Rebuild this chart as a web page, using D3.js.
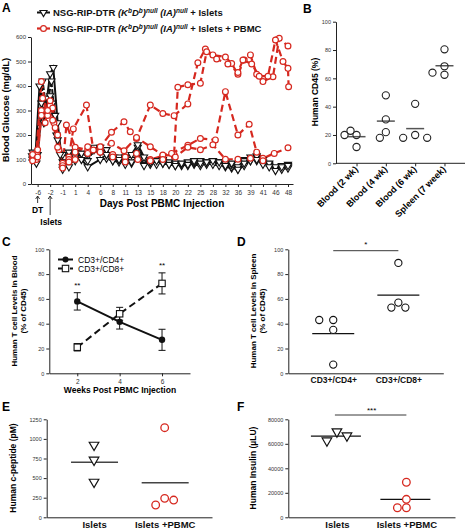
<!DOCTYPE html>
<html><head><meta charset="utf-8">
<script src="https://cdn.jsdelivr.net/npm/d3@7"></script>
<style>body{margin:0;background:#fff}svg{display:block;font-family:"Liberation Sans",Arial,Helvetica,sans-serif}</style>
</head><body><svg id="c" width="465" height="529"></svg>
<script>
// ---------- DATA ----------
const dayLabels = ["-6","-2","-1","1","4","6","8","11","13","15","18","20","22","25","28","32","36","39","41","46","48"];
// [measurement index (label index), glucose mg/dL]
const red1 = [[-0.4,110],[-0.1,125],[0.3,418],[0.7,300],[1,320],[1.3,250],[1.7,140],[2,70],[2.3,241],[3,150],[4,140],[5,150],[5.9,211],[6.9,254],[7.4,213],[7.9,186],[9,322],[10,288],[10.9,279],[12,327],[12.8,495],[13.4,551],[14,527],[15,518],[15.5,492],[16,448],[16.5,506],[17,527],[17.5,448],[18,418],[18.8,438],[19.3,595],[20,563]];
const red2 = [[-0.4,100],[0,140],[0.4,350],[0.8,280],[1.2,310],[1.6,200],[2,85],[2.5,110],[2.85,225],[3.9,322],[4.45,139],[5,143],[6,120],[7,110],[7.9,125],[9,100],[10,115],[10.9,120],[11.2,395],[12,405],[13,411],[13.5,540],[14.3,510],[15.2,490],[16,455],[16.4,506],[17.1,490],[17.7,440],[18.4,440],[19,588],[19.6,500],[20,472],[20.05,397]];
const red3 = [[-0.4,120],[-0.1,100],[0.3,300],[0.6,250],[1,340],[1.4,230],[2,75],[2.5,100],[3,130],[4,152],[5,152],[5.9,166],[6.9,136],[7.9,190],[9,152],[10,118],[10.7,125],[12,158],[13,186],[14.2,180],[15,377],[16,200],[16.9,244],[17.5,130],[18,105],[18.9,125],[20,148]];
const red4 = [[-0.4,95],[0,110],[0.3,280],[0.8,300],[1.2,260],[1.6,150],[2,65],[2.5,90],[3,100],[4,125],[5,130],[6,110],[7,90],[8,100],[9,95],[10,100],[11,110],[12,150],[13,140],[14,160],[15,101],[16,101],[17,105],[18,95]];
const black1 = [[-0.45,115],[-0.2,95],[0.15,400],[0.5,250],[1,450],[1.25,475],[1.6,250],[2,70],[2.5,120],[3,130],[4,70],[5,100],[5.5,105],[6,95],[6.5,90],[7,100],[7.5,85],[8,125],[8.5,80],[9,85],[9.5,90],[10,85],[10.5,80],[11,75],[11.5,80],[12,85],[12.5,80],[13,75],[13.5,85],[14,95],[14.5,80],[15,70],[15.5,65],[16,60],[16.5,75],[17,100],[17.5,105],[18,85],[18.5,80],[19,60],[19.5,65],[20,70]];
const black2 = [[-0.4,100],[-0.15,110],[0.3,330],[0.7,300],[1.1,420],[1.5,200],[2,60],[2.5,110],[3,95],[3.5,125],[4,115],[5,140],[5.5,120],[6,100],[6.5,110],[7,90],[7.5,100],[8,150],[8.5,100],[9,80],[9.5,95],[10,90],[10.5,85],[11,80],[11.5,75],[12,90],[12.5,85],[13,90],[13.5,80],[14,85],[14.5,90],[15,80],[15.5,70],[16,65],[16.5,100],[17,110],[17.5,95],[18,90],[18.5,75],[19,65],[19.5,75],[20,80]];
const black3 = [[-0.4,130],[-0.1,85],[0.3,280],[0.8,350],[1.2,330],[1.6,180],[2,120],[2.5,130],[3,120],[3.5,125],[4,125],[4.5,150],[5,130],[5.5,140],[6,105],[6.5,100],[7,110],[7.5,120],[8,160],[8.5,110],[9,90],[9.5,80],[10,100],[10.5,90],[11,85],[11.5,80],[12,75],[12.5,90],[13,95],[13.5,90],[14,80],[14.5,75],[15,85],[15.5,80],[16,70],[16.5,95],[17,95],[17.5,115],[18,100],[18.5,85],[19,70],[19.5,60],[20,65]];
const black4 = [[-0.4,105],[0,120],[0.4,420],[0.7,300],[1,360],[1.4,280],[1.8,120],[2,90],[2.5,70],[3,110],[3.5,100],[4,95],[4.5,140],[5,150],[5.5,120],[6,95],[6.5,100],[7,80],[7.5,90],[8,120],[8.5,75],[9,90],[9.5,95],[10,85],[10.5,80],[11,75],[11.5,85],[12,80],[12.5,95],[13,85],[13.5,90],[14,95],[14.5,90],[15,75],[15.5,85],[16,60],[16.5,85],[17,95],[17.5,100],[18,80],[18.5,70],[19,55],[19.5,70],[20,75]];
const redSeries = [red1, red2, red3, red4];
const blackSeries = [black1, black2, black3, black4];
const glucoseTicks = [0,100,200,300,400,500,600];

const bCategories = ["Blood (2 wk)","Blood (4 wk)","Blood (6 wk)","Spleen (7 week)"];
const bValues = [[20,20,23,11.5],[48,31,22,18],[42,20,18,18],[80.5,68.5,62.5,64]];
const bMeans = [18.8,29.8,24.5,68.9];
const pctTicks = [0,20,40,60,80,100];

const cWeeks = [2,4,6];
const cCD4 = [58,41.5,27];
const cCD4err = [7,5.8,8.5];
const cCD8 = [21,48,72.5];
const cCD8err = [3,5.2,8.5];
const cStars = ["**","","**"];

const dCategories = ["CD3+/CD4+","CD3+/CD8+"];
const dValues = [[43,43,35,7],[89,57,53,53]];
const dMeans = [32,63];

const eCategories = ["Islets","Islets +PBMC"];
const eValues = [[922,731,450],[1143,242,157,220]];
const eMeans = [701,441];
const eTicks = [0,250,500,750,1000,1250];

const fValues = [[69900,62500,66600],[28600,14700,7800,7800]];
const fMeans = [66300,14700];
const fTicks = [0,20000,40000,60000,80000];

// ---------- DRAWING ----------
const RED = "#d6281f";
const svg = d3.select("#c");
const triSmall = d3.symbol().type(d3.symbolTriangle).size(22);
const tri = d3.symbol().type(d3.symbolTriangle).size(40);

function panelLabel(x,y,t){svg.append("text").attr("x",x).attr("y",y).attr("font-size",12).attr("font-weight","bold").text(t);}
function yLabel(x,cy,lines,fs){
  const t = svg.append("text").attr("transform",`translate(${x},${cy}) rotate(-90)`).attr("text-anchor","middle")
    .attr("font-size",fs).attr("font-weight","bold");
  lines.forEach((l,i)=>t.append("tspan").attr("x",0).attr("dy",i?fs*1.15:0).text(l));
}
function styleAxis(g,fs){
  g.selectAll("path,line").attr("stroke","#222").attr("stroke-width",1);
  g.selectAll("text").attr("font-size",fs).attr("fill","#333").attr("font-family","Liberation Sans, Arial, sans-serif");
}
function dodge(vals,y,r,step){
  const placed=[];
  return vals.map(v=>{
    const py=y(v);
    for(const off of [0,-step,step,-2*step,2*step]){
      if(placed.every(p=>Math.hypot(p[0]-off,p[1]-py)>=2*r)){placed.push([off,py]);return off;}
    }
    placed.push([0,py]);return 0;
  });
}
const intFmt = d3.format("d");

// ===== Panel A =====
panelLabel(2,12,"A");
const xA = d3.scaleLinear().domain([-0.53,20.4]).range([31,293]);
const yA = d3.scaleLinear().domain([0,600]).range([184,37]);
const gxA = svg.append("g").attr("transform","translate(0,184)")
  .call(d3.axisBottom(xA).tickValues(d3.range(dayLabels.length)).tickFormat(i=>dayLabels[i]).tickSize(3).tickSizeOuter(0).tickPadding(3));
styleAxis(gxA,6.5);
const gyA = svg.append("g").attr("transform","translate(31,0)")
  .call(d3.axisLeft(yA).tickValues(glucoseTicks).tickFormat(intFmt).tickSize(3).tickSizeOuter(0).tickPadding(2));
styleAxis(gyA,6);
yLabel(9,110,["Blood Glucose (mg/dL)"],9.5);
svg.append("text").attr("x",162).attr("y",207).attr("text-anchor","middle").attr("font-size",10).attr("font-weight","bold").text("Days Post PBMC Injection");

const lineA = d3.line().x(d=>xA(d[0])).y(d=>yA(d[1]));
blackSeries.forEach((s,i)=>{
  svg.append("path").datum(s).attr("d",lineA).attr("fill","none").attr("stroke","#111").attr("stroke-width",2)
    .attr("stroke-dasharray",i%2?"5,2":null);
});
redSeries.forEach(s=>{
  svg.append("path").datum(s).attr("d",lineA).attr("fill","none").attr("stroke",RED).attr("stroke-width",2.2).attr("stroke-dasharray","7,4");
});
blackSeries.forEach(s=>{
  svg.append("g").selectAll("path").data(s).join("path").attr("d",triSmall)
    .attr("transform",d=>`translate(${xA(d[0])},${yA(d[1])}) rotate(180)`)
    .attr("fill","#fff").attr("stroke","#111").attr("stroke-width",1.1);
});
redSeries.forEach(s=>{
  svg.append("g").selectAll("circle").data(s).join("circle").attr("cx",d=>xA(d[0])).attr("cy",d=>yA(d[1])).attr("r",2.9)
    .attr("fill","#fff").attr("stroke",RED).attr("stroke-width",1.2);
});
// DT / Islets arrows
function arrow(x,y1,y2){
  svg.append("line").attr("x1",x).attr("x2",x).attr("y1",y1).attr("y2",y2).attr("stroke","#222").attr("stroke-width",0.9);
  svg.append("path").attr("d",`M${x-2},${y1+3}L${x},${y1}L${x+2},${y1+3}`).attr("fill","none").attr("stroke","#222").attr("stroke-width",0.9);
}
arrow(xA(0),196,203);
arrow(xA(1),196,215);
svg.append("text").attr("x",xA(0)).attr("y",213).attr("text-anchor","middle").attr("font-size",8.5).attr("font-weight","bold").text("DT");
svg.append("text").attr("x",xA(1)+1).attr("y",225).attr("text-anchor","middle").attr("font-size",8.5).attr("font-weight","bold").text("Islets");

// legend A
function legendText(x,y,suffix){
  const t = svg.append("text").attr("x",x).attr("y",y).attr("font-size",9.5).attr("font-weight","bold").attr("fill","#111");
  const parts=[["NSG-RIP-DTR ",0,0],["(K",1,0],["b",1,1],["D",1,0],["b",1,1],[")",1,0],["null",1,1],[" (IA)",1,0],["null",1,1],[suffix,0,0]];
  let up=false;
  parts.forEach(([s,it,sup])=>{
    const ts=t.append("tspan").text(s);
    if(it) ts.attr("font-style","italic");
    if(sup){ts.attr("font-size",6.5); if(!up){ts.attr("dy",-3.5);up=true;}}
    else if(up){ts.attr("dy",3.5);up=false;}
  });
}
svg.append("line").attr("x1",37).attr("x2",50).attr("y1",12.5).attr("y2",12.5).attr("stroke","#111").attr("stroke-width",2);
svg.append("path").attr("d",triSmall).attr("transform","translate(43.5,12.5) rotate(180)").attr("fill","#fff").attr("stroke","#111").attr("stroke-width",1.1);
legendText(53,16," + Islets");
svg.append("line").attr("x1",37).attr("x2",50).attr("y1",28.5).attr("y2",28.5).attr("stroke",RED).attr("stroke-width",2.2);
svg.append("circle").attr("cx",43.5).attr("cy",28.5).attr("r",2.9).attr("fill","#fff").attr("stroke",RED).attr("stroke-width",1.2);
legendText(53,32," + Islets + PBMC");

// ===== Panel B =====
panelLabel(303,13,"B");
const xB = d3.scalePoint().domain(bCategories).range([336,465]).padding(0.7);
const yB = d3.scaleLinear().domain([0,100]).range([163.3,21.7]);
const gxB = svg.append("g").attr("transform","translate(0,163.3)").call(d3.axisBottom(xB).tickSize(3).tickSizeOuter(0).tickFormat(""));
styleAxis(gxB,6);
gxB.select(".domain").attr("d","M336,0H465");
bCategories.forEach(c=>{
  svg.append("text").attr("transform",`translate(${xB(c)+2},${170}) rotate(-45)`).attr("text-anchor","end")
    .attr("font-size",9).attr("font-weight","bold").text(c);
});
const gyB = svg.append("g").attr("transform","translate(336,0)").call(d3.axisLeft(yB).tickValues(pctTicks).tickSize(3).tickSizeOuter(0).tickPadding(2));
styleAxis(gyB,5.5);
yLabel(318,92,["Human CD45 (%)"],8.5);
bValues.forEach((vals,i)=>{
  const offs = dodge(vals,yB,3.6,6);
  const cx = xB(bCategories[i]);
  svg.append("line").attr("x1",cx-9).attr("x2",cx+9).attr("y1",yB(bMeans[i])).attr("y2",yB(bMeans[i])).attr("stroke","#555").attr("stroke-width",1.5);
  vals.forEach((v,j)=>svg.append("circle").attr("cx",cx+offs[j]).attr("cy",yB(v)).attr("r",3.6).attr("fill","none").attr("stroke","#222").attr("stroke-width",1.1));
});

// ===== Panel C =====
panelLabel(2,246,"C");
const xC = d3.scaleLinear().domain([0.68,7.32]).range([49.3,190]);
const yC = d3.scaleLinear().domain([0,100]).range([373.3,249.3]);
const gxC = svg.append("g").attr("transform","translate(0,373.3)").call(d3.axisBottom(xC).tickValues(cWeeks).tickFormat(d3.format("d")).tickSize(3).tickSizeOuter(0).tickPadding(3));
styleAxis(gxC,6.5);
const gyC = svg.append("g").attr("transform","translate(49.3,0)").call(d3.axisLeft(yC).tickValues(pctTicks).tickSize(3).tickSizeOuter(0).tickPadding(2));
styleAxis(gyC,5.5);
yLabel(17,311,["Human  T cell Levels In Blood","(% of CD45)"],8);
svg.append("text").attr("x",120).attr("y",393).attr("text-anchor","middle").attr("font-size",8.5).attr("font-weight","bold").text("Weeks Post PBMC Injection");
const lineC = d3.line().x((d,i)=>xC(cWeeks[i])).y(d=>yC(d));
svg.append("path").datum(cCD8).attr("d",lineC).attr("fill","none").attr("stroke","#111").attr("stroke-width",2).attr("stroke-dasharray","7,4");
svg.append("path").datum(cCD4).attr("d",lineC).attr("fill","none").attr("stroke","#111").attr("stroke-width",2);
function errBars(vals,errs){
  vals.forEach((v,i)=>{
    const x=xC(cWeeks[i]);
    svg.append("path").attr("d",`M${x},${yC(v-errs[i])}V${yC(v+errs[i])}M${x-3.5},${yC(v-errs[i])}H${x+3.5}M${x-3.5},${yC(v+errs[i])}H${x+3.5}`)
      .attr("stroke","#111").attr("stroke-width",1).attr("fill","none");
  });
}
errBars(cCD4,cCD4err); errBars(cCD8,cCD8err);
cCD8.forEach((v,i)=>svg.append("rect").attr("x",xC(cWeeks[i])-3.2).attr("y",yC(v)-3.2).attr("width",6.4).attr("height",6.4).attr("fill","#fff").attr("stroke","#111").attr("stroke-width",1.1));
cCD4.forEach((v,i)=>svg.append("circle").attr("cx",xC(cWeeks[i])).attr("cy",yC(v)).attr("r",3.2).attr("fill","#111"));
cStars.forEach((s,i)=>{
  const top = Math.max(cCD4[i]+cCD4err[i], cCD8[i]+cCD8err[i]);
  svg.append("text").attr("x",xC(cWeeks[i])).attr("y",yC(top)-5).attr("text-anchor","middle").attr("font-size",8).text(s);
});
// legend C
svg.append("line").attr("x1",58).attr("x2",73).attr("y1",259.5).attr("y2",259.5).attr("stroke","#111").attr("stroke-width",2);
svg.append("circle").attr("cx",65.5).attr("cy",259.5).attr("r",3).attr("fill","#111");
svg.append("text").attr("x",78).attr("y",262.5).attr("font-size",8.5).text("CD3+/CD4+");
svg.append("line").attr("x1",58).attr("x2",73).attr("y1",268.5).attr("y2",268.5).attr("stroke","#111").attr("stroke-width",2).attr("stroke-dasharray","4,2");
svg.append("rect").attr("x",62.3).attr("y",265.3).attr("width",6.4).attr("height",6.4).attr("fill","#fff").attr("stroke","#111").attr("stroke-width",1.1);
svg.append("text").attr("x",78).attr("y",271.5).attr("font-size",8.5).text("CD3+/CD8+");

// ===== Panel D =====
panelLabel(237,246,"D");
const xD = d3.scalePoint().domain(dCategories).range([288.3,443.3]).padding(0.69);
const yD = d3.scaleLinear().domain([0,100]).range([373.3,249.3]);
const gxD = svg.append("g").attr("transform","translate(0,373.3)").call(d3.axisBottom(xD).tickSize(0).tickSizeOuter(0).tickPadding(4));
styleAxis(gxD,8.5);
gxD.selectAll("text").attr("font-weight","bold").attr("fill","#111");
const gyD = svg.append("g").attr("transform","translate(288.3,0)").call(d3.axisLeft(yD).tickValues(pctTicks).tickSize(3).tickSizeOuter(0).tickPadding(2));
styleAxis(gyD,5.5);
yLabel(256,311,["Human  T cell Levels In Spleen","(% of CD45)"],8);
dValues.forEach((vals,i)=>{
  const offs = dodge(vals,yD,3.6,7);
  const cx = xD(dCategories[i]);
  svg.append("line").attr("x1",cx-21).attr("x2",cx+21).attr("y1",yD(dMeans[i])).attr("y2",yD(dMeans[i])).attr("stroke","#111").attr("stroke-width",1.3);
  vals.forEach((v,j)=>svg.append("circle").attr("cx",cx+offs[j]).attr("cy",yD(v)).attr("r",3.6).attr("fill","#fff").attr("stroke","#111").attr("stroke-width",1.1));
});
svg.append("line").attr("x1",xD(dCategories[0])).attr("x2",xD(dCategories[1])).attr("y1",250.7).attr("y2",250.7).attr("stroke","#222").attr("stroke-width",0.9);
svg.append("text").attr("x",(xD(dCategories[0])+xD(dCategories[1]))/2).attr("y",247).attr("text-anchor","middle").attr("font-size",8).text("*");

// ===== Panel E =====
panelLabel(2,411,"E");
const xE = d3.scalePoint().domain(eCategories).range([46.7,212]).padding(0.67);
const yE = d3.scaleLinear().domain([0,1250]).range([517.3,419.3]);
const gxE = svg.append("g").attr("transform","translate(0,517.3)").call(d3.axisBottom(xE).tickSize(0).tickSizeOuter(0).tickPadding(4));
styleAxis(gxE,9.5);
gxE.selectAll("text").attr("font-weight","bold").attr("fill","#111");
const gyE = svg.append("g").attr("transform","translate(46.7,0)").call(d3.axisLeft(yE).tickValues(eTicks).tickFormat(intFmt).tickSize(3).tickSizeOuter(0).tickPadding(2));
styleAxis(gyE,5.5);
yLabel(16,468,["Human c-peptide (pM)"],8.5);
eValues.forEach((vals,i)=>{
  const cx = xE(eCategories[i]);
  svg.append("line").attr("x1",cx-23).attr("x2",cx+24).attr("y1",yE(eMeans[i])).attr("y2",yE(eMeans[i])).attr("stroke","#444").attr("stroke-width",1.5);
  if(i===0){
    const offs = dodge(vals,yE,4.5,10);
    vals.forEach((v,j)=>svg.append("path").attr("d",tri).attr("transform",`translate(${cx+offs[j]},${yE(v)}) rotate(180)`).attr("fill","#fff").attr("stroke","#111").attr("stroke-width",1.2));
  } else {
    const offs = dodge(vals,yE,3.8,9);
    vals.forEach((v,j)=>svg.append("circle").attr("cx",cx+offs[j]).attr("cy",yE(v)).attr("r",3.8).attr("fill","#fff").attr("stroke",RED).attr("stroke-width",1.3));
  }
});

// ===== Panel F =====
panelLabel(237,411,"F");
const xF = d3.scalePoint().domain(eCategories).range([288.3,455]).padding(0.7);
const yF = d3.scaleLinear().domain([0,80000]).range([517.3,419.3]);
const gxF = svg.append("g").attr("transform","translate(0,517.3)").call(d3.axisBottom(xF).tickSize(0).tickSizeOuter(0).tickPadding(4));
styleAxis(gxF,9.5);
gxF.selectAll("text").attr("font-weight","bold").attr("fill","#111");
const gyF = svg.append("g").attr("transform","translate(288.3,0)").call(d3.axisLeft(yF).tickValues(fTicks).tickFormat(intFmt).tickSize(3).tickSizeOuter(0).tickPadding(2));
styleAxis(gyF,5.5);
yLabel(256,468,["Human Insulin (\u00b5LU)"],8.5);
fValues.forEach((vals,i)=>{
  const cx = xF(eCategories[i]);
  svg.append("line").attr("x1",cx-26).attr("x2",cx+24).attr("y1",yF(fMeans[i])).attr("y2",yF(fMeans[i])).attr("stroke","#111").attr("stroke-width",1.3);
  if(i===0){
    const offs = dodge(vals,yF,5,10);
    vals.forEach((v,j)=>svg.append("path").attr("d",tri).attr("transform",`translate(${cx+offs[j]},${yF(v)}) rotate(180)`).attr("fill","#fff").attr("stroke","#111").attr("stroke-width",1.2));
  } else {
    const offs = dodge(vals,yF,3.8,9);
    vals.forEach((v,j)=>svg.append("circle").attr("cx",cx+offs[j]).attr("cy",yF(v)).attr("r",3.8).attr("fill","#fff").attr("stroke",RED).attr("stroke-width",1.3));
  }
});
svg.append("line").attr("x1",xF(eCategories[0])-2).attr("x2",xF(eCategories[1])).attr("y1",415).attr("y2",415).attr("stroke","#222").attr("stroke-width",0.9);
svg.append("text").attr("x",(xF(eCategories[0])+xF(eCategories[1]))/2).attr("y",413).attr("text-anchor","middle").attr("font-size",8).text("***");
</script></body></html>
